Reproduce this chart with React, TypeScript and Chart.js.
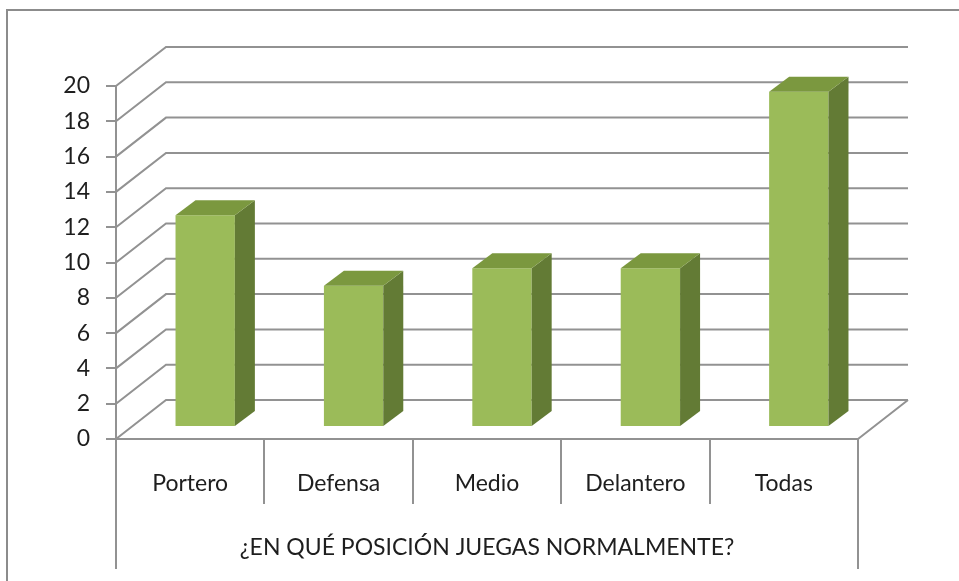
import { useEffect, useRef } from 'react';
import { Chart, registerables } from 'chart.js';

Chart.register(...registerables);

const categories = ['Portero', 'Defensa', 'Medio', 'Delantero', 'Todas'];
const values = [12, 8, 9, 9, 19];
const yTickValues = [0, 2, 4, 6, 8, 10, 12, 14, 16, 18, 20];
const axisTitle = '¿EN QUÉ POSICIÓN JUEGAS NORMALMENTE?';

const GRID = '#929292';
const TEXT = '#1e1e1e';
const FRONT = '#9BBB59';
const SIDE = '#637B35';
const TOP = '#7B983F';
const FONT = { family: 'Lato, "Open Sans", sans-serif', size: 23 };

// 3D projection offsets
const BACK_DX = 50;
const BACK_DY = -39;
const BAR_DX = 15;
const BAR_DY = -12;
const DEPTH_DX = 20;
const DEPTH_DY = -15;

const threeD = {
  id: 'threeD',
  beforeDatasetsDraw(chart: any) {
    const { ctx, chartArea } = chart;
    const ys = chart.scales.y;
    ctx.save();
    ctx.strokeStyle = GRID;
    ctx.lineWidth = 2;
    ctx.beginPath();
    ys.ticks.forEach((t: any) => {
      const y = ys.getPixelForValue(t.value);
      ctx.moveTo(chartArea.left, y);
      ctx.lineTo(chartArea.left + BACK_DX, y + BACK_DY);
      ctx.lineTo(chartArea.right + BACK_DX, y + BACK_DY);
    });
    const y0 = ys.getPixelForValue(0);
    ctx.moveTo(chartArea.right, y0);
    ctx.lineTo(chartArea.right + BACK_DX, y0 + BACK_DY);
    // extended outer lines of the category table
    ctx.moveTo(chartArea.left, y0);
    ctx.lineTo(chartArea.left, y0 + 130);
    ctx.moveTo(chartArea.right, y0);
    ctx.lineTo(chartArea.right, y0 + 130);
    ctx.stroke();
    ctx.restore();
    ctx.save();
    ctx.translate(BAR_DX, BAR_DY);
  },
  afterDatasetsDraw(chart: any) {
    const { ctx } = chart;
    const meta = chart.getDatasetMeta(0);
    meta.data.forEach((bar: any) => {
      const { x, y, base, width } = bar.getProps(['x', 'y', 'base', 'width'], true);
      const l = x - width / 2;
      const r = x + width / 2;
      ctx.fillStyle = SIDE;
      ctx.beginPath();
      ctx.moveTo(r, y);
      ctx.lineTo(r + DEPTH_DX, y + DEPTH_DY);
      ctx.lineTo(r + DEPTH_DX, base + DEPTH_DY);
      ctx.lineTo(r, base);
      ctx.closePath();
      ctx.fill();
      ctx.fillStyle = TOP;
      ctx.beginPath();
      ctx.moveTo(l, y);
      ctx.lineTo(l + DEPTH_DX, y + DEPTH_DY);
      ctx.lineTo(r + DEPTH_DX, y + DEPTH_DY);
      ctx.lineTo(r, y);
      ctx.closePath();
      ctx.fill();
    });
    ctx.restore();
  },
};

export default function App() {
  const ref = useRef<HTMLCanvasElement>(null);
  useEffect(() => {
    const chart = new Chart(ref.current!, {
      type: 'bar',
      data: {
        labels: categories,
        datasets: [
          {
            data: values,
            backgroundColor: FRONT,
            borderWidth: 0,
            categoryPercentage: 1,
            barPercentage: 0.4,
          },
        ],
      },
      options: {
        animation: false,
        responsive: false,
        devicePixelRatio: 1,
        layout: { padding: { top: 86, right: 101, left: 0, bottom: 0 } },
        plugins: { legend: { display: false }, tooltip: { enabled: false } },
        scales: {
          x: {
            grid: {
              offset: true,
              drawOnChartArea: false,
              drawTicks: true,
              tickLength: 65,
              color: GRID,
              lineWidth: 2,
            },
            border: { display: true, color: GRID, width: 2 },
            ticks: { padding: -34, font: FONT, color: TEXT, maxRotation: 0 },
            title: {
              display: true,
              text: axisTitle,
              font: FONT,
              color: TEXT,
              padding: { top: 0, bottom: 20 },
            },
            afterFit: (s: any) => {
              s.height = 142;
            },
          },
          y: {
            min: 0,
            max: 20,
            afterBuildTicks: (s: any) => {
              s.ticks = yTickValues.map((v) => ({ value: v }));
            },
            ticks: { padding: 16, font: FONT, color: TEXT },
            grid: { drawOnChartArea: false, tickLength: 10, color: GRID, lineWidth: 2 },
            border: { display: true, color: GRID, width: 2 },
            afterFit: (s: any) => {
              s.width = 116;
            },
          },
        },
      },
      plugins: [threeD],
    });
    return () => chart.destroy();
  }, []);
  return (
    <div style={{ position: 'absolute', left: 0, top: 0, width: 959, height: 581, background: '#fff' }}>
      <div
        style={{
          position: 'absolute',
          left: 6,
          top: 9,
          right: 0,
          bottom: 0,
          borderTop: '2px solid #8c8c8c',
          borderLeft: '2px solid #8c8c8c',
        }}
      />
      <canvas ref={ref} width={959} height={581} style={{ position: 'absolute', left: 0, top: 0 }} />
    </div>
  );
}
